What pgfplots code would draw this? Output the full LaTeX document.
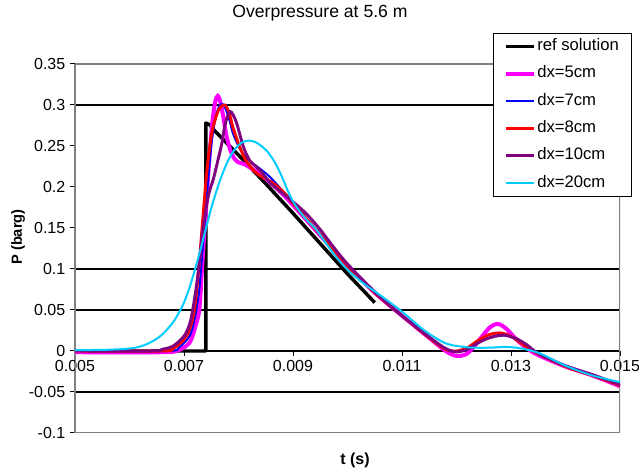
\documentclass[border=0pt]{standalone}
\usepackage{fontspec}
\setmainfont{Liberation Sans}
\usepackage{pgfplots}
\pgfplotsset{compat=1.18}

\definecolor{skyblue}{HTML}{00CCFF}
\definecolor{dpurple}{HTML}{800080}
\definecolor{fuchsia}{HTML}{FF00FF}

\begin{document}
\begin{tikzpicture}[x=0.75pt,y=0.75pt]
\path[use as bounding box] (0,0) rectangle (639,473);
\begin{axis}[
  at={(56.25pt,30pt)}, anchor=south west,
  scale only axis, width=408.75pt, height=276.75pt,
  xmin=0.005, xmax=0.015, ymin=-0.1, ymax=0.35,
  axis x line=middle, axis y line=left,
  hide obscured x ticks=false, hide obscured y ticks=false,
  scaled x ticks=false, scaled y ticks=false,
  x axis line style={-, black, line width=0.9pt},
  y axis line style={-, gray, line width=0.8pt},
  xtick={0.005,0.007,0.009,0.011,0.013,0.015},
  xticklabels={0.005,0.007,0.009,0.011,0.013,0.015},
  ytick={-0.1,-0.05,0,0.05,0.1,0.15,0.2,0.25,0.3,0.35},
  yticklabels={-0.1,-0.05,0,0.05,0.1,0.15,0.2,0.25,0.3,0.35},
  extra y ticks={-0.05,0.05,0.1,0.3},
  extra y tick labels={},
  extra y tick style={grid=major, major tick length=0pt},
  major grid style={black, line width=0.9pt},
  tick align=outside,
  major tick length=3.75pt,
  tick style={black, line width=0.75pt},
  ticklabel style={font=\fontsize{12}{14}\selectfont},
  legend style={at={(0.767,1.084)}, anchor=north west, draw=black,
    fill=white, font=\fontsize{12.5}{14}\selectfont,
    inner xsep=8pt, inner ysep=3pt, row sep=6.5pt,
    nodes={inner sep=1pt, text height=9pt, text depth=3pt}},
  legend cell align=left,
  legend image code/.code={\draw[#1] (0pt,0pt) -- (21pt,0pt);},
]
\draw[gray, line width=0.8pt] (rel axis cs:0,0) rectangle (rel axis cs:1,1);

% reference solution
\addplot[black, line width=2.6pt, line join=round] coordinates {
(0.005,0) (0.0074,0) (0.0074,0.278) (0.00747,0.276) (0.00757,0.268)
(0.00763,0.264) (0.0080,0.239) (0.0085,0.204) (0.009,0.168)
(0.0095,0.131) (0.010,0.094) (0.0105,0.059)};
\addlegendentry{ref solution}

% dx = 5 cm
\addplot[fuchsia, line width=3pt, smooth, tension=0.5] coordinates {
(0.005,-0.0015) (0.0066,-0.0015) (0.0069,0.001) (0.0071,0.01) (0.0072,0.028)
(0.00728,0.05) (0.00733,0.1) (0.00739,0.16) (0.00745,0.22) (0.00751,0.272)
(0.00757,0.303) (0.00762,0.311) (0.00767,0.303) (0.00772,0.286) (0.00778,0.262)
(0.00785,0.245) (0.00792,0.235) (0.0080,0.23) (0.0081,0.228) (0.0083,0.22)
(0.0085,0.21) (0.0088,0.192) (0.009,0.178) (0.0095,0.141) (0.010,0.104)
(0.0105,0.071) (0.011,0.043) (0.0115,0.016) (0.0118,0.0) (0.0120,-0.006)
(0.0122,-0.003) (0.0124,0.012) (0.0126,0.028) (0.01275,0.033) (0.0129,0.028)
(0.0131,0.014) (0.0133,0.003) (0.0135,-0.005) (0.014,-0.019) (0.0145,-0.03)
(0.015,-0.043)};
\addlegendentry{dx=5cm}

% dx = 7 cm
\addplot[blue, line width=1.5pt, smooth, tension=0.5] coordinates {
(0.005,0) (0.0067,0) (0.0069,0.004) (0.0071,0.018) (0.0072,0.04)
(0.00728,0.075) (0.00735,0.13) (0.00742,0.19) (0.0075,0.25) (0.00758,0.285)
(0.00765,0.299) (0.00771,0.301) (0.00777,0.294) (0.00784,0.28) (0.0079,0.265)
(0.0080,0.25) (0.00815,0.235) (0.0084,0.222) (0.00858,0.212) (0.0088,0.196)
(0.009,0.18) (0.0095,0.142) (0.010,0.104) (0.0105,0.071) (0.011,0.043)
(0.0115,0.016) (0.0118,0.002) (0.0120,-0.001) (0.0122,0.002) (0.0124,0.01)
(0.0126,0.016) (0.0129,0.019) (0.0131,0.014) (0.0133,0.006) (0.0135,-0.004)
(0.014,-0.019) (0.0145,-0.03) (0.015,-0.042)};
\addlegendentry{dx=7cm}

% dx = 8 cm
\addplot[red, line width=2.2pt, smooth, tension=0.5] coordinates {
(0.005,0) (0.0066,0) (0.0068,0.003) (0.007,0.014) (0.0071,0.026)
(0.00719,0.05) (0.00727,0.1) (0.00735,0.165) (0.00742,0.22) (0.0075,0.262)
(0.00757,0.282) (0.00765,0.296) (0.00775,0.3) (0.00783,0.29) (0.0079,0.272)
(0.00803,0.2475) (0.00815,0.231) (0.00833,0.217) (0.00864,0.2045) (0.00888,0.19)
(0.009,0.18) (0.0095,0.142) (0.010,0.104) (0.0105,0.071)
(0.011,0.043) (0.0115,0.016) (0.0118,0.002) (0.0120,0.0) (0.0122,0.004)
(0.0124,0.013) (0.0126,0.02) (0.0128,0.022) (0.013,0.018) (0.0132,0.009)
(0.0134,0.0) (0.014,-0.019) (0.0145,-0.03) (0.015,-0.042)};
\addlegendentry{dx=8cm}

% dx = 10 cm
\addplot[dpurple, line width=2.2pt, smooth, tension=0.5] coordinates {
(0.005,0) (0.0064,0.0) (0.0066,0.002) (0.0068,0.006) (0.007,0.018)
(0.0071,0.032) (0.00716,0.05) (0.00725,0.09) (0.00735,0.15) (0.00745,0.19)
(0.00754,0.21) (0.00762,0.232) (0.00769,0.252) (0.00776,0.278) (0.00784,0.292)
(0.0079,0.288) (0.00797,0.277) (0.00809,0.249) (0.00821,0.232) (0.0084,0.22)
(0.00858,0.205) (0.00876,0.195) (0.009,0.182) (0.00925,0.167) (0.0095,0.148)
(0.00974,0.127) (0.010,0.106)
(0.0105,0.072) (0.011,0.043) (0.0115,0.017) (0.0118,0.003) (0.012,-0.001)
(0.0122,0.002) (0.0124,0.01) (0.0126,0.016) (0.01285,0.0195) (0.0131,0.015)
(0.0133,0.007) (0.0135,-0.003) (0.014,-0.018) (0.0145,-0.029) (0.015,-0.041)};
\addlegendentry{dx=10cm}

% dx = 20 cm
\addplot[skyblue, line width=1.5pt, smooth, tension=0.5] coordinates {
(0.005,0.001) (0.0056,0.0015) (0.006,0.003) (0.0062,0.0055) (0.0064,0.011)
(0.0066,0.02) (0.0068,0.035) (0.0069,0.046) (0.007,0.059) (0.0071,0.077)
(0.0072,0.099) (0.0073,0.123) (0.0074,0.149) (0.0075,0.174) (0.0076,0.196)
(0.0077,0.215) (0.0078,0.231) (0.0079,0.243) (0.008,0.251) (0.0081,0.2555)
(0.0082,0.2565) (0.0083,0.255) (0.0084,0.251) (0.00852,0.244) (0.00864,0.233)
(0.00873,0.222) (0.00882,0.209) (0.00894,0.19) (0.00907,0.175) (0.00925,0.16)
(0.00943,0.1476) (0.00962,0.13) (0.0098,0.114)
(0.010,0.099) (0.0103,0.082) (0.0106,0.068) (0.011,0.048) (0.0114,0.0256)
(0.0118,0.0094) (0.0122,0.0045) (0.0126,0.004) (0.0129,0.005) (0.0132,0.003)
(0.01353,-0.003) (0.014,-0.018) (0.0145,-0.03) (0.015,-0.038)};
\addlegendentry{dx=20cm}
\end{axis}

\node at (320,460) {\fontsize{13.2}{15}\selectfont Overpressure at 5.6 m};
\node[rotate=90] at (18,236) {\fontsize{11}{13}\selectfont\bfseries P (barg)};
\node at (355,13) {\fontsize{12}{14}\selectfont\bfseries t (s)};
\end{tikzpicture}
\end{document}
